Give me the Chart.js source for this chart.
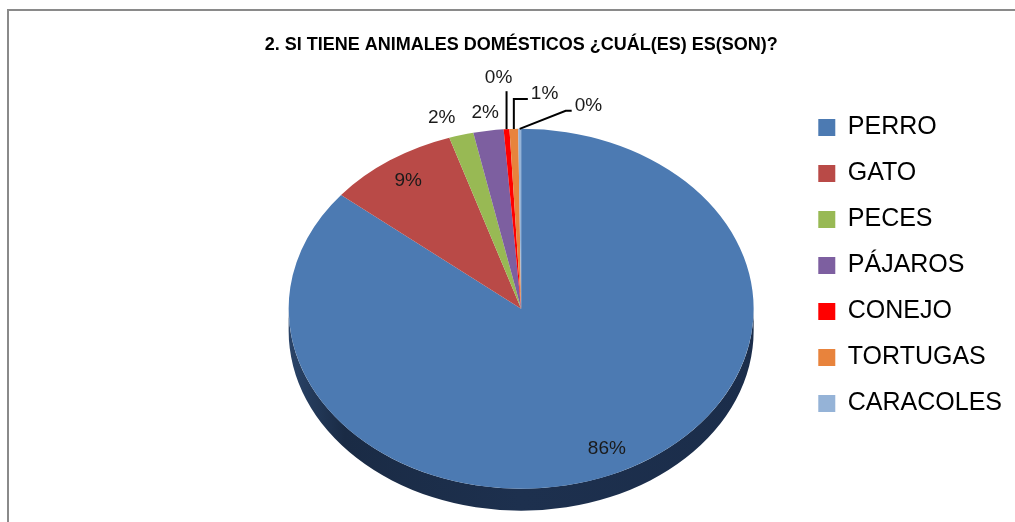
<!DOCTYPE html>
<html>
<head>
<meta charset="utf-8">
<script src="https://cdn.jsdelivr.net/npm/chart.js@4/dist/chart.umd.min.js"></script>
<style>
  html, body { margin: 0; padding: 0; background: #fff; }
  #wrap { width: 1015px; height: 522px; }
</style>
</head>
<body>
<div id="wrap"><canvas id="mascotas" width="1015" height="522"></canvas></div>
<script>
const titleText = "2. SI TIENE ANIMALES DOMÉSTICOS ¿CUÁL(ES) ES(SON)?"
const categories = ["PERRO", "GATO", "PECES", "PÁJAROS", "CONEJO", "TORTUGAS", "CARACOLES"]
const percentages = [85.9, 9.1, 1.7, 2.1, 0.4, 0.6, 0.2]
const sliceColors = ["#4C7AB2", "#B94A47", "#98B954", "#7D5FA0", "#FF0000", "#E8833C", "#95B3D7"]

// look of the excel 3d pie
const squash = 0.774
const depth = 22
// leader lines for the tiny slices: offset from rim to elbow, then horizontal run
const leaderStyles = [
    { dx: 0, dy: -38, run: 0 },
    { dx: 0, dy: -30, run: 14 },
    { dx: 46, dy: -18, run: 6 }
]

const pie3d = {
    id: "pie3d",
    beforeDraw(chart) {
        const ctx = chart.ctx
        ctx.save()
        ctx.fillStyle = "#8A8A8A"
        ctx.fillRect(7, 9, 2, chart.height - 9)
        ctx.fillRect(7, 9, chart.width - 7, 2)
        ctx.restore()
    },
    beforeDatasetsDraw(chart) {
        const ctx = chart.ctx
        const arc = chart.getDatasetMeta(0).data[0]
        const { x, y, outerRadius } = arc.getProps(["x", "y", "outerRadius"], true)
        const ry = outerRadius * squash

        // side of the pie
        ctx.save()
        const grad = ctx.createLinearGradient(x - outerRadius, 0, x + outerRadius, 0)
        grad.addColorStop(0, "#2A4468")
        grad.addColorStop(0.12, "#1A2B45")
        grad.addColorStop(0.5, "#1D304E")
        grad.addColorStop(1, "#1B2D4A")
        ctx.fillStyle = grad
        ctx.beginPath()
        ctx.moveTo(x + outerRadius, y)
        ctx.lineTo(x + outerRadius, y + depth)
        ctx.ellipse(x, y + depth, outerRadius, ry, 0, 0, Math.PI)
        ctx.lineTo(x - outerRadius, y)
        ctx.ellipse(x, y, outerRadius, ry, 0, Math.PI, 0, true)
        ctx.closePath()
        ctx.fill()
        ctx.restore()

        // squash the top face into an ellipse
        ctx.save()
        ctx.translate(x, y)
        ctx.scale(1, squash)
        ctx.translate(-x, -y)
    },
    afterDatasetsDraw(chart) {
        const ctx = chart.ctx
        ctx.restore()

        const meta = chart.getDatasetMeta(0)
        const total = percentages.reduce((a, b) => a + b, 0)
        ctx.save()
        ctx.font = "19px 'Liberation Sans'"
        ctx.fillStyle = "#1A1A1A"
        ctx.strokeStyle = "#000"
        ctx.lineWidth = 2
        ctx.textBaseline = "middle"
        let leader = 0
        const outside = []
        meta.data.forEach((arc, i) => {
            const { x, y, startAngle, endAngle, outerRadius } =
                arc.getProps(["x", "y", "startAngle", "endAngle", "outerRadius"], true)
            const mid = (startAngle + endAngle) / 2
            const at = f => ({
                x: x + Math.cos(mid) * outerRadius * f,
                y: y + Math.sin(mid) * outerRadius * f * squash
            })
            const pct = percentages[i] / total * 100
            const text = Math.round(pct) + "%"

            if (pct >= 5) {
                const p = at(0.86)
                ctx.textAlign = "center"
                ctx.fillText(text, p.x, p.y)
            } else if (pct >= 1) {
                const p = at(1.1)
                outside.push({ text, x: p.x, y: p.y, w: ctx.measureText(text).width })
            } else {
                const s = leaderStyles[leader++] || { dx: 0, dy: -30, run: 0 }
                const p = at(1)
                const e = { x: p.x + s.dx, y: p.y + s.dy }
                const f = { x: e.x + s.run, y: e.y }
                ctx.beginPath()
                ctx.moveTo(p.x, p.y)
                ctx.lineTo(e.x, e.y)
                ctx.lineTo(f.x, f.y)
                ctx.stroke()
                if (s.run > 0) {
                    ctx.textAlign = "left"
                    ctx.fillText(text, f.x + 3, f.y - 5)
                } else {
                    ctx.textAlign = "center"
                    ctx.fillText(text, e.x - 8, e.y - 13)
                }
            }
        })
        // push crowded outside labels apart, like excel does
        for (let k = outside.length - 2; k >= 0; k--) {
            const a = outside[k], b = outside[k + 1]
            const gap = 16
            const need = (a.w + b.w) / 2 + gap
            if (b.x - a.x < need) a.x = b.x - need
        }
        ctx.textAlign = "center"
        outside.forEach(l => ctx.fillText(l.text, l.x, l.y))
        ctx.restore()
    }
}

const data = {
    labels: categories,
    datasets: [{
        data: percentages,
        backgroundColor: sliceColors,
        borderWidth: 0,
        hoverOffset: 0,
        radius: 232.5,
        clip: false
    }]
}

const myChart = new Chart("mascotas", {
    type: "pie",
    data: data,
    options: {
        responsive: false,
        animation: false,
        layout: {
            padding: { left: 245, right: 3, top: 9, bottom: 0 }
        },
        plugins: {
            title: {
                display: true,
                text: titleText,
                fullSize: false,
                color: "#000",
                font: { family: "'Liberation Sans'", size: 18, weight: "bold" },
                padding: { top: 25, bottom: 40 }
            },
            legend: {
                position: "right",
                labels: {
                    color: "#000",
                    font: { family: "'Liberation Sans'", size: 25 },
                    boxWidth: 17,
                    boxHeight: 17,
                    padding: 21
                }
            },
            tooltip: { enabled: false }
        }
    },
    plugins: [pie3d]
})
</script>
</body>
</html>
